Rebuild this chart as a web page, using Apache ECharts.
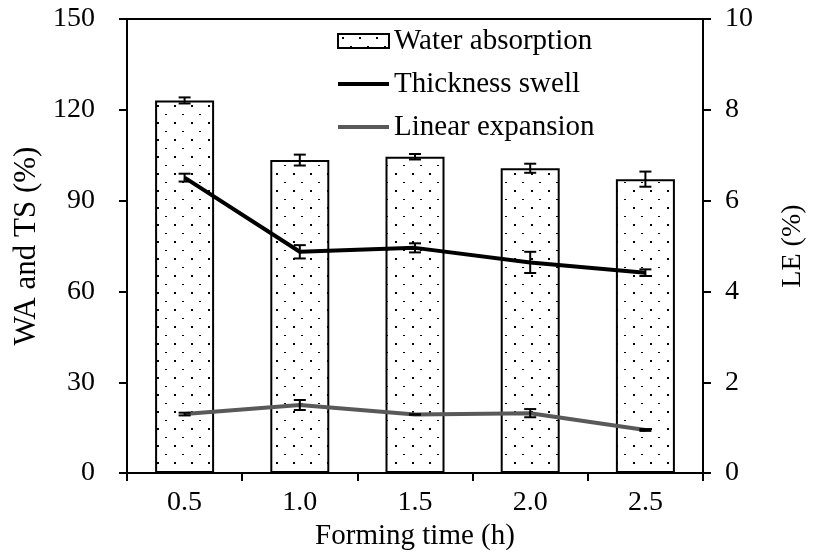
<!DOCTYPE html>
<html><head><meta charset="utf-8">
<script src="https://cdn.jsdelivr.net/npm/echarts@6/dist/echarts.min.js"></script>
<style>html,body{margin:0;padding:0;background:#fff}#c{width:815px;height:556px}</style>
</head><body><div id="c"></div>
<script>
const categories = ['0.5', '1.0', '1.5', '2.0', '2.5'];
const waterAbsorption = [123.1, 103.4, 104.5, 100.7, 97.1];
const waterAbsorptionErr = [1.0, 1.8, 0.9, 1.5, 2.5];
const thicknessSwell = [97.6, 73.1, 74.4, 69.6, 66.2];
const thicknessSwellErr = [1.3, 2.2, 1.5, 3.5, 1.1];
const linearExpansion = [1.30, 1.50, 1.29, 1.32, 0.95];
const linearExpansionErr = [0.03, 0.11, 0.0, 0.09, 0.02];

const FONT = "'Liberation Serif', 'Times New Roman', serif";

// dotted fill pattern
const tile = document.createElement('canvas');
tile.width = 17; tile.height = 17;
const tc = tile.getContext('2d');
tc.fillStyle = '#fff'; tc.fillRect(0, 0, 17, 17);
tc.fillStyle = '#000';
tc.fillRect(4, 3, 2, 2);
tc.fillRect(12, 12, 2, 1);

function errData(vals, errs) {
  return vals.map((v, i) => [i, v - errs[i], v + errs[i]]);
}
function errRender(params, api) {
  const x = api.value(0);
  const lo = api.coord([x, api.value(1)]);
  const hi = api.coord([x, api.value(2)]);
  const half = 6;
  const style = { stroke: '#000', lineWidth: 2 };
  return { type: 'group', children: [
    { type: 'line', shape: { x1: lo[0], y1: lo[1], x2: hi[0], y2: hi[1] }, style },
    { type: 'line', shape: { x1: lo[0] - half, y1: lo[1], x2: lo[0] + half, y2: lo[1] }, style },
    { type: 'line', shape: { x1: hi[0] - half, y1: hi[1], x2: hi[0] + half, y2: hi[1] }, style }
  ]};
}

const LINE_ICON = 'path://M0 0H51V4H0Z';

const chart = echarts.init(document.getElementById('c'), null, { renderer: 'canvas' });
chart.setOption({
  backgroundColor: '#fff',
  animation: false,
  textStyle: { fontFamily: FONT, color: '#000' },
  grid: { left: 127, right: 102, top: 19, bottom: 81, show: true, borderColor: '#000', borderWidth: 2, backgroundColor: 'transparent' },
  legend: {
    orient: 'vertical', left: 332, top: 21, itemGap: 13, itemWidth: 51, itemHeight: 14,
    symbolKeepAspect: true,
    textStyle: { fontFamily: FONT, fontSize: 29, color: '#000', lineHeight: 30, padding: [0, 0, 0, 0] },
    data: [
      { name: 'Water absorption', icon: 'rect' },
      { name: 'Thickness swell', icon: LINE_ICON, itemStyle: { color: '#000', borderWidth: 0 } },
      { name: 'Linear expansion', icon: LINE_ICON, itemStyle: { color: '#595959', borderWidth: 0 } }
    ]
  },
  xAxis: {
    type: 'category', data: categories, boundaryGap: true,
    name: 'Forming time (h)', nameLocation: 'middle', nameGap: 48,
    nameTextStyle: { fontFamily: FONT, fontSize: 29, color: '#000' },
    axisLine: { lineStyle: { color: '#000', width: 2 } },
    axisTick: { show: true, inside: false, length: 8, lineStyle: { color: '#000', width: 2 } },
    axisLabel: { fontFamily: FONT, fontSize: 28, color: '#000', margin: 16 },
    splitLine: { show: false }
  },
  yAxis: [
    {
      type: 'value', min: 0, max: 150, interval: 30,
      name: 'WA and TS (%)', nameLocation: 'middle', nameGap: 85, nameRotate: 90,
      nameTextStyle: { fontFamily: FONT, fontSize: 31, color: '#000' },
      axisLine: { show: true, lineStyle: { color: '#000', width: 2 } },
      axisTick: { show: true, length: 8, lineStyle: { color: '#000', width: 2 } },
      axisLabel: { fontFamily: FONT, fontSize: 28, color: '#000', margin: 32 },
      splitLine: { show: false }
    },
    {
      type: 'value', min: 0, max: 10, interval: 2, position: 'right',
      name: 'LE (%)', nameLocation: 'middle', nameGap: 76, nameRotate: 90,
      nameTextStyle: { fontFamily: FONT, fontSize: 28, color: '#000' },
      axisLine: { show: true, lineStyle: { color: '#000', width: 2 } },
      axisTick: { show: true, length: 8, lineStyle: { color: '#000', width: 2 } },
      axisLabel: { fontFamily: FONT, fontSize: 28, color: '#000', margin: 22 },
      splitLine: { show: false }
    }
  ],
  series: [
    {
      name: 'Water absorption', type: 'bar', data: waterAbsorption, barWidth: 59,
      itemStyle: { color: { image: tile, repeat: 'repeat' }, borderColor: '#000', borderWidth: 2 },
      z: 2
    },
    {
      name: 'Thickness swell', type: 'line', data: thicknessSwell, symbol: 'none', showSymbol: false,
      lineStyle: { color: '#000', width: 4 }, itemStyle: { color: '#000' }, z: 3
    },
    {
      name: 'Linear expansion', type: 'line', yAxisIndex: 1, data: linearExpansion, symbol: 'none', showSymbol: false,
      lineStyle: { color: '#595959', width: 4 }, itemStyle: { color: '#595959' }, z: 3
    },
    { name: 'waErr', type: 'custom', renderItem: errRender, data: errData(waterAbsorption, waterAbsorptionErr), encode: { x: 0, y: [1, 2] }, z: 5 },
    { name: 'tsErr', type: 'custom', renderItem: errRender, data: errData(thicknessSwell, thicknessSwellErr), encode: { x: 0, y: [1, 2] }, z: 5 },
    { name: 'leErr', type: 'custom', yAxisIndex: 1, renderItem: errRender, data: errData(linearExpansion, linearExpansionErr), encode: { x: 0, y: [1, 2] }, z: 5 }
  ]
});
</script>
</body></html>
